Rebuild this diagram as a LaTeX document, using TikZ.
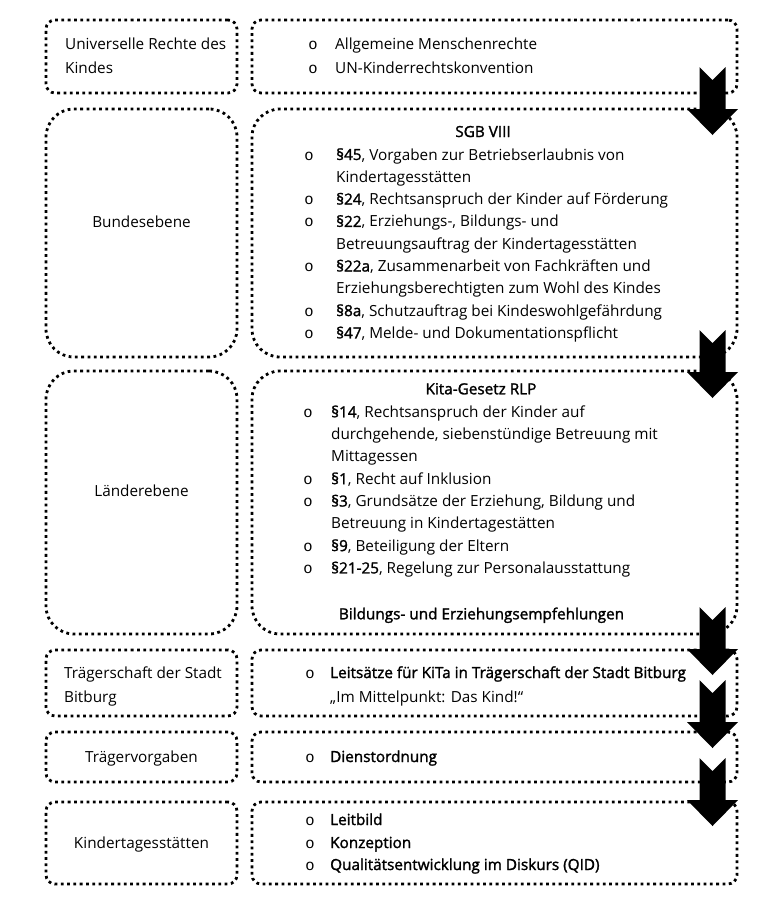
\documentclass[tikz,border=0pt]{standalone}
\usepackage{fontspec}
\setmainfont{Open Sans}
\newfontfamily\semib[FakeBold=1.6]{Open Sans}
\newfontfamily\bulfont{Liberation Mono}
\begin{document}
\begin{tikzpicture}[x=1pt,y=-1pt,
  box/.style={draw=black, line width=2.8pt, dash pattern=on 2.8pt off 3.5pt,
    rounded corners=9pt, inner sep=0pt},
  bigbox/.style={box, rounded corners=28pt},
  txt/.style={anchor=base west, inner sep=0pt, text=black,
    font=\fontsize{15.3}{18}\selectfont},
  ctxt/.style={txt, anchor=base},
  btxt/.style={txt, font=\semib\fontsize{15.3}{18}\selectfont},
  bctxt/.style={btxt, anchor=base},
  bul/.style={anchor=base, inner sep=0pt, text=black,
    font=\bulfont\fontsize{15.5}{15.5}\selectfont},
  pics/blockarrow/.style={code={
    \fill[black] (-13,0) -- (0,13) -- (13,0) -- (13,42) -- (25.5,42)
      -- (0,68) -- (-25.5,42) -- (-13,42) -- cycle;}}
]
\fill[white] (0,0) rectangle (780,906);
\useasboundingbox (0,0) rectangle (780,906);

% ---- boxes ----
\node[box, minimum width=191pt, minimum height=73pt] (L1) at (141.5,56.5) {};
\node[box, minimum width=485pt, minimum height=73pt] (R1) at (494.5,56.5) {};
\node[bigbox, minimum width=191pt, minimum height=248pt] (L2) at (141.5,233) {};
\node[bigbox, minimum width=485pt, minimum height=248pt] (R2) at (494.5,233) {};
\node[bigbox, minimum width=191pt, minimum height=263pt] (L3) at (141.5,502.5) {};
\node[bigbox, minimum width=485pt, minimum height=263pt] (R3) at (494.5,502.5) {};
\node[box, minimum width=191pt, minimum height=66pt] (L4) at (141.5,683) {};
\node[box, minimum width=485pt, minimum height=66pt] (R4) at (494.5,683) {};
\node[box, minimum width=191pt, minimum height=50pt] (L5) at (141.5,757) {};
\node[box, minimum width=485pt, minimum height=50pt] (R5) at (494.5,757) {};
\node[box, minimum width=191pt, minimum height=82pt] (L6) at (141.5,843) {};
\node[box, minimum width=485pt, minimum height=82pt] (R6) at (494.5,843) {};

% ---- row 1 ----
\node[txt] (l1a) at (65,49) {Universelle Rechte des};
\node[txt] (l1b) at (65,73) {Kindes};
\node[bul] (b1a) at (313,49) {o};
\node[bul] (b1b) at (313,73) {o};
\node[txt] (r1a) at (335,49) {Allgemeine Menschenrechte};
\node[txt] (r1b) at (335,73) {UN-Kinderrechtskonvention};

% ---- row 2 ----
\node[ctxt] (l2) at (141.5,227) {Bundesebene};
\node[bctxt] (h2) at (483,137) {SGB VIII};
\node[bul] (b2a) at (309,160) {o};
\node[txt] (r2a) at (336,160) {{\semib §45}, Vorgaben zur Betriebserlaubnis von};
\node[txt] (r2b) at (336,182.3) {Kindertagesstätten};
\node[bul] (b2c) at (309,204.6) {o};
\node[txt] (r2c) at (336,204.6) {{\semib §24}, Rechtsanspruch der Kinder auf Förderung};
\node[bul] (b2d) at (309,226.9) {o};
\node[txt] (r2d) at (336,226.9) {{\semib §22}, Erziehungs-, Bildungs- und};
\node[txt] (r2e) at (336,249.2) {Betreuungsauftrag der Kindertagesstätten};
\node[bul] (b2f) at (309,271.5) {o};
\node[txt] (r2f) at (336,271.5) {{\semib §22a}, Zusammenarbeit von Fachkräften und};
\node[txt] (r2g) at (336,293.8) {Erziehungsberechtigten zum Wohl des Kindes};
\node[bul] (b2h) at (309,316.1) {o};
\node[txt] (r2h) at (336,316.1) {{\semib §8a}, Schutzauftrag bei Kindeswohlgefährdung};
\node[bul] (b2i) at (309,338.4) {o};
\node[txt] (r2i) at (336,338.4) {{\semib §47}, Melde- und Dokumentationspflicht};

% ---- row 3 ----
\node[ctxt] (l3) at (141.5,496) {Länderebene};
\node[bctxt] (h3) at (481,394.3) {Kita-Gesetz RLP};
\node[bul] (b3a) at (308,417.3) {o};
\node[txt] (r3a) at (331,417.3) {{\semib §14}, Rechtsanspruch der Kinder auf};
\node[txt] (r3b) at (331,439.6) {durchgehende, siebenstündige Betreuung mit};
\node[txt] (r3c) at (331,461.9) {Mittagessen};
\node[bul] (b3d) at (308,484.2) {o};
\node[txt] (r3d) at (331,484.2) {{\semib §1}, Recht auf Inklusion};
\node[bul] (b3e) at (308,506.5) {o};
\node[txt] (r3e) at (331,506.5) {{\semib §3}, Grundsätze der Erziehung, Bildung und};
\node[txt] (r3f) at (331,528.8) {Betreuung in Kindertagestätten};
\node[bul] (b3g) at (308,551.1) {o};
\node[txt] (r3g) at (331,551.1) {{\semib §9}, Beteiligung der Eltern};
\node[bul] (b3h) at (308,573.4) {o};
\node[txt] (r3h) at (331,573.4) {{\semib §21-25}, Regelung zur Personalausstattung};
\node[bctxt] (f3) at (481.5,619.3) {Bildungs- und Erziehungsempfehlungen};

% ---- row 4 ----
\node[txt] (l4a) at (64,678) {Trägerschaft der Stadt};
\node[txt] (l4b) at (64,702) {Bitburg};
\node[bul] (b4a) at (310,678) {o};
\node[btxt] (r4a) at (330,678) {Leitsätze für KiTa in Trägerschaft der Stadt Bitburg};
\node[txt] (r4b) at (330,702) {„Im Mittelpunkt: Das Kind!“};

% ---- row 5 ----
\node[ctxt] (l5) at (141.5,762) {Trägervorgaben};
\node[bul] (b5a) at (310,762) {o};
\node[btxt] (r5a) at (330,762) {Dienstordnung};

% ---- row 6 ----
\node[ctxt] (l6) at (141.5,848) {Kindertagesstätten};
\node[bul] (b6a) at (310,825) {o};
\node[btxt] (r6a) at (330,825) {Leitbild};
\node[bul] (b6b) at (310,848) {o};
\node[btxt] (r6b) at (330,848) {Konzeption};
\node[bul] (b6c) at (310,870) {o};
\node[btxt] (r6c) at (330,870) {Qualitätsentwicklung im Diskurs (QID)};

% ---- block arrows ----
\pic at (712.5,67) {blockarrow};
\pic at (712.5,330) {blockarrow};
\pic at (712.5,607) {blockarrow};
\pic at (712.5,680) {blockarrow};
\pic at (712.5,758) {blockarrow};
\end{tikzpicture}
\end{document}
